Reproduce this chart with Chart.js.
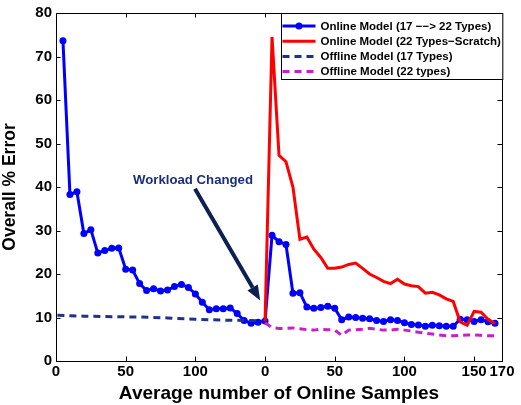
<!DOCTYPE html>
<html><head><meta charset="utf-8">
<script src="https://cdn.jsdelivr.net/npm/chart.js@4/dist/chart.umd.min.js"></script>
<style>html,body{margin:0;padding:0;background:#fff}canvas{display:block}</style>
</head><body>
<canvas id="c" width="521" height="405"></canvas>
<script>
// ---- data ----
const PHASE2_OFFSET = 150;           // second phase restarts the sample count
const xTickValues = [0, 50, 100, 150, 200, 250, 300, 320];
const xTickLabels = ['0', '50', '100', '0', '50', '100', '150', '170'];
const yTickStep = 10;

const seriesLabels = [
  'Online Model (17 \u2212\u2212> 22 Types)',
  'Online Model (22 Types\u2212Scratch)',
  'Offline Model (17 Types)',
  'Offline Model (22 types)'
];

// Online model (17 -> 22 types), phase 1 (17 types)
const onlineP1X = [5,10,15,20,25,30,35,40,45,50,55,60,65,70,75,80,85,90,95,100,105,110,115,120,125,130,135,140,145,150];
const onlineP1Y = [73.6,38.3,38.9,29.3,30.2,24.8,25.4,25.9,26.0,21.1,20.9,17.8,16.2,16.6,16.1,16.3,17.1,17.6,16.9,15.4,13.5,11.8,12.0,12.0,12.2,10.9,9.3,8.7,8.9,9.2];
// Online model, phase 2 (after workload change)
const onlineP2X = [5,10,15,20,25,30,35,40,45,50,55,60,65,70,75,80,85,90,95,100,105,110,115,120,125,130,135,140,145,150,155,160,165];
const onlineP2Y = [28.9,27.4,26.8,15.6,15.7,12.4,12.1,12.3,12.6,12.1,9.5,10.1,10.0,9.8,9.7,9.3,9.1,9.5,9.3,8.8,8.4,8.3,8.0,8.2,8.1,8.0,8.0,9.6,9.5,9.1,9.5,9.0,8.7];

// Online model from scratch (22 types), phase 2
const scratchX = [0,5,10,15,20,25,30,35,40,45,50,55,60,65,70,75,80,85,90,95,100,105,110,115,120,125,130,135,140,145,150,155,160,165];
const scratchY = [9.2,74.5,47.3,45.8,40.0,28.0,28.5,25.7,23.8,21.3,21.3,21.6,22.2,22.5,21.3,20.0,19.2,18.3,17.8,18.8,17.7,17.3,17.1,15.6,15.8,15.2,14.3,13.7,9.0,8.2,11.4,11.2,9.6,8.6];

// Offline model (17 types), phase 1
const offline17X = [1,10,20,40,60,80,100,120,140,148];
const offline17Y = [10.5,10.4,10.3,10.2,10.1,9.9,9.6,9.4,9.3,9.2];

// Offline model (22 types), phase 2
const offline22X = [0,5,10,15,20,25,30,35,40,45,50,55,60,65,70,75,80,85,90,95,100,105,110,115,120,125,130,135,140,145,150,155,160,165];
const offline22Y = [8.8,7.7,7.5,7.5,7.6,7.4,7.2,7.1,7.3,7.2,7.1,5.9,7.1,7.2,7.3,7.5,7.3,7.1,7.1,7.3,7.1,6.9,6.6,6.4,6.2,6.0,5.8,5.8,5.9,6.0,6.0,5.9,5.8,5.8];

// annotation (data coordinates)
const noteText = 'Workload Changed';
const notePos = [98.3, 41.5];
const arrowFrom = [99.7, 39.6];
const arrowTo = [146.5, 13.9];

// ---- build ----
const pts = (xs, ys, off) => xs.map((x, i) => ({x: x + off, y: ys[i]}));
const FONT = '"Liberation Sans", Arial, Helvetica, sans-serif';
const NAVY = '#1c3389';
const MAGENTA = '#c81fc8';

const datasets = [
  {label: seriesLabels[0], data: pts(onlineP1X, onlineP1Y, 0).concat(pts(onlineP2X, onlineP2Y, PHASE2_OFFSET)),
   borderColor: '#0000ff', backgroundColor: '#0000ff', borderWidth: 3, pointRadius: 3.5, pointBorderWidth: 0, order: 4},
  {label: seriesLabels[1], data: pts(scratchX, scratchY, PHASE2_OFFSET),
   borderColor: '#ff0000', backgroundColor: '#ff0000', borderWidth: 3, pointRadius: 0, order: 3},
  {label: seriesLabels[2], data: pts(offline17X, offline17Y, 0),
   borderColor: NAVY, backgroundColor: NAVY, borderWidth: 3, borderDash: [7, 5], pointRadius: 0, order: 2},
  {label: seriesLabels[3], data: pts(offline22X, offline22Y, PHASE2_OFFSET),
   borderColor: MAGENTA, backgroundColor: MAGENTA, borderWidth: 3, borderDash: [7, 5], pointRadius: 0, order: 1}
];

const frame = {
  id: 'frame',
  afterDatasetsDraw(chart) {
    const {ctx, chartArea: a, scales: {x, y}} = chart;
    ctx.save();
    ctx.strokeStyle = '#000'; ctx.lineWidth = 1;
    const L = 4.5;
    ctx.beginPath();
    x.ticks.forEach(t => {
      const px = Math.round(x.getPixelForValue(t.value)) + 0.5;
      ctx.moveTo(px, a.bottom); ctx.lineTo(px, a.bottom - L);
      ctx.moveTo(px, a.top); ctx.lineTo(px, a.top + L);
    });
    y.ticks.forEach(t => {
      const py = Math.round(y.getPixelForValue(t.value)) + 0.5;
      ctx.moveTo(a.left, py); ctx.lineTo(a.left + L, py);
      ctx.moveTo(a.right, py); ctx.lineTo(a.right - L, py);
    });
    ctx.stroke();
    ctx.strokeRect(Math.round(a.left) + 0.5, Math.round(a.top) + 0.5, Math.round(a.right - a.left), Math.round(a.bottom - a.top));

    // annotation
    const ax0 = x.getPixelForValue(arrowFrom[0]), ay0 = y.getPixelForValue(arrowFrom[1]);
    const ax1 = x.getPixelForValue(arrowTo[0]), ay1 = y.getPixelForValue(arrowTo[1]);
    const ang = Math.atan2(ay1 - ay0, ax1 - ax0);
    const HL = 15, HW = 6;
    ctx.strokeStyle = '#0c2052'; ctx.fillStyle = '#0c2052'; ctx.lineWidth = 4;
    ctx.beginPath();
    ctx.moveTo(ax0, ay0);
    ctx.lineTo(ax1 - HL * Math.cos(ang), ay1 - HL * Math.sin(ang));
    ctx.stroke();
    ctx.beginPath();
    ctx.moveTo(ax1, ay1);
    ctx.lineTo(ax1 - HL * Math.cos(ang) + HW * Math.sin(ang), ay1 - HL * Math.sin(ang) - HW * Math.cos(ang));
    ctx.lineTo(ax1 - HL * Math.cos(ang) - HW * Math.sin(ang), ay1 - HL * Math.sin(ang) + HW * Math.cos(ang));
    ctx.closePath(); ctx.fill();
    ctx.font = 'bold 13.2px ' + FONT;
    ctx.fillStyle = '#1a2f7a';
    ctx.textAlign = 'center'; ctx.textBaseline = 'middle';
    ctx.fillText(noteText, x.getPixelForValue(notePos[0]), y.getPixelForValue(notePos[1]));

    // legend box
    ctx.font = 'bold 11.5px ' + FONT;
    const maxW = Math.max(...chart.data.datasets.map(d => ctx.measureText(d.label).width));
    const lineLen = 33, pad = 1, gap = 5, rowH = 15.2;
    const w = pad + lineLen + gap + maxW + 2;
    const h = 66;
    const bx = Math.round(a.right - w) + 0.5, by = Math.round(a.top) + 0.5;
    ctx.fillStyle = '#fff';
    ctx.fillRect(bx, by, w, h);
    ctx.lineWidth = 1; ctx.strokeStyle = '#000';
    ctx.strokeRect(bx, by, w, h);
    ctx.textAlign = 'left'; ctx.textBaseline = 'middle';
    chart.data.datasets.forEach((d, i) => {
      const cy = by + 12.5 + i * rowH;
      ctx.strokeStyle = d.borderColor; ctx.lineWidth = 3;
      ctx.setLineDash(d.borderDash || []);
      ctx.beginPath(); ctx.moveTo(bx + pad, cy); ctx.lineTo(bx + pad + lineLen, cy); ctx.stroke();
      ctx.setLineDash([]);
      if (d.pointRadius > 0) {
        ctx.fillStyle = d.backgroundColor;
        ctx.beginPath(); ctx.arc(bx + pad + lineLen / 2, cy, d.pointRadius, 0, Math.PI * 2); ctx.fill();
      }
      ctx.fillStyle = '#000';
      ctx.fillText(d.label, bx + pad + lineLen + gap, cy + 0.5);
    });
    ctx.restore();
  }
};

new Chart(document.getElementById('c'), {
  type: 'line',
  data: {datasets},
  options: {
    responsive: false, animation: false,
    layout: {padding: {top: 10, right: 19, left: 0, bottom: 0}},
    elements: {line: {tension: 0}},
    plugins: {legend: {display: false}, tooltip: {enabled: false}},
    scales: {
      x: {
        type: 'linear', min: 0, max: 320,
        afterBuildTicks: s => { s.ticks = xTickValues.map(v => ({value: v})); },
        afterFit: s => { s.height = 44; },
        grid: {display: false, drawTicks: false},
        border: {display: true, color: '#000', width: 1},
        ticks: {autoSkip: false, maxRotation: 0, padding: 2, color: '#000',
                font: {family: FONT, size: 15, weight: 'bold'},
                callback: (v, i) => xTickLabels[i]},
        title: {display: true, text: 'Average number of Online Samples', color: '#000',
                font: {family: FONT, size: 19, weight: 'bold'}, padding: {top: 0, bottom: 0}}
      },
      y: {
        min: 0, max: 80,
        afterFit: s => { s.width = 56; },
        grid: {display: false, drawTicks: false},
        border: {display: true, color: '#000', width: 1},
        ticks: {stepSize: yTickStep, padding: 4, color: '#000',
                font: {family: FONT, size: 15, weight: 'bold'}},
        title: {display: true, text: 'Overall % Error', color: '#000',
                font: {family: FONT, size: 17.5, weight: 'bold'}, padding: {top: 0, bottom: 4}}
      }
    }
  },
  plugins: [frame]
});
</script>
</body></html>
